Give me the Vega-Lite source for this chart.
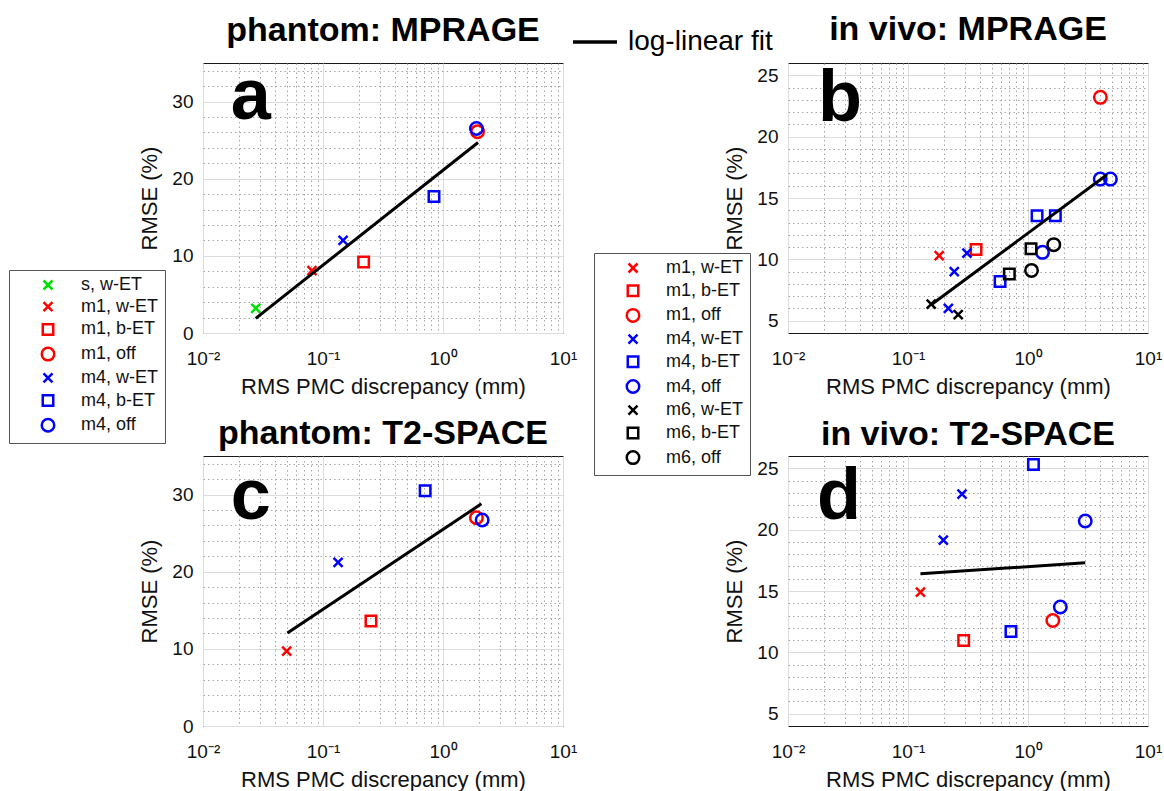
{
  "$schema": "https://vega.github.io/schema/vega-lite/v6.json",
  "padding": {"left": 8, "top": 12, "right": 0, "bottom": 0},
  "background": "white",
  "bounds": "flush",
  "columns": 2,
  "spacing": {"row": 123, "column": 225},
  "resolve": {
    "scale": {"x": "independent", "y": "independent", "color": "independent", "shape": "independent", "stroke": "independent"},
    "legend": {"color": "independent", "shape": "independent", "stroke": "independent"},
    "axis": {"x": "independent", "y": "independent"}
  },
  "config": {
    "font": "Liberation Sans",
    "view": {"stroke": "#1a1a1a", "strokeWidth": 1},
    "axis": {
      "labelFont": "Liberation Sans", "labelFontSize": 19, "labelColor": "#111",
      "titleFont": "Liberation Sans", "titleFontSize": 22, "titleFontWeight": "normal", "titleColor": "#111",
      "ticks": false, "domain": false, "labelOverlap": false, "labelFlush": false,
      "gridWidth": 1, "labelPadding": 10, "titlePadding": 10, "tickCount": 60
    },
    "axisX": {"labelPadding": 16, "titlePadding": 8},
    "title": {"font": "Liberation Sans", "fontSize": 34, "fontWeight": "bold", "color": "#000", "anchor": "middle", "frame": "group", "baseline": "alphabetic"},
    "legend": {
      "labelFont": "Liberation Sans", "labelFontSize": 18, "labelColor": "#111",
      "strokeColor": "#555", "fillColor": "white", "padding": 6, "rowPadding": 1.7,
      "symbolSize": 156, "symbolStrokeWidth": 2.5, "symbolOffset": 24, "labelOffset": 24, "title": null
    }
  },
  "concat": [
    {
      "width": 360, "height": 270,
      "title": {"text": "phantom: MPRAGE", "offset": -30},
      "layer": [
        {
          "data": {"values": [
            {"x": 0.0275, "y": 3.2, "g": "s, w-ET"},
            {"x": 0.081, "y": 8.1, "g": "m1, w-ET"},
            {"x": 0.218, "y": 9.2, "g": "m1, b-ET"},
            {"x": 1.94, "y": 26.1, "g": "m1, off"},
            {"x": 0.147, "y": 12.0, "g": "m4, w-ET"},
            {"x": 0.841, "y": 17.7, "g": "m4, b-ET"},
            {"x": 1.90, "y": 26.5, "g": "m4, off"}
          ]},
          "mark": {"type": "point", "filled": false, "strokeWidth": 2.5, "size": 156, "opacity": 1},
          "encoding": {
            "x": {"field": "x", "type": "quantitative", "title": "RMS PMC discrepancy (mm)",
              "scale": {"type": "log", "domain": [0.01, 10], "nice": false},
              "axis": {
                "values": [0.01,0.02,0.03,0.04,0.05,0.06,0.07,0.08,0.09,0.1,0.2,0.3,0.4,0.5,0.6,0.7,0.8,0.9,1,2,3,4,5,6,7,8,9,10],
                "labelExpr": "abs(log(datum.value)/LN10 - round(log(datum.value)/LN10)) > 0.01 ? '' : ['10⁻²','10⁻¹','10⁰','10¹'][round(log(datum.value)/LN10)+2]",
                "gridDash": {"condition": {"test": "abs(log(datum.value)/LN10 - round(log(datum.value)/LN10)) > 0.01", "value": [1.5, 3]}, "value": []},
                "gridColor": {"condition": {"test": "abs(log(datum.value)/LN10 - round(log(datum.value)/LN10)) > 0.01", "value": "#a6a6a6"}, "value": "#dcdcdc"}
              }},
            "y": {"field": "y", "type": "quantitative", "title": "RMSE (%)",
              "scale": {"domain": [0, 35], "nice": false, "zero": false},
              "axis": {
                "values": [0,2,4,6,8,10,12,14,16,18,20,22,24,26,28,30,32,34],
                "labelExpr": "datum.value % 10 == 0 ? format(datum.value, 'd') : ''",
                "gridDash": {"condition": {"test": "datum.value % 10 != 0", "value": [1.5, 3]}, "value": []},
                "gridColor": {"condition": {"test": "datum.value % 10 != 0", "value": "#a6a6a6"}, "value": "#dcdcdc"}
              }},
            "color": {"field": "g", "type": "nominal",
              "scale": {"domain": ["s, w-ET","m1, w-ET","m1, b-ET","m1, off","m4, w-ET","m4, b-ET","m4, off"],
                        "range": ["#00e000","#ff0000","#ff0000","#ff0000","#0000ff","#0000ff","#0000ff"]},
              "legend": {"orient": "none", "legendX": -194, "legendY": 207, "symbolFillColor": "transparent"}},
            "shape": {"field": "g", "type": "nominal",
              "scale": {"domain": ["s, w-ET","m1, w-ET","m1, b-ET","m1, off","m4, w-ET","m4, b-ET","m4, off"],
                        "range": ["M-0.72,-0.72L0.72,0.72M-0.72,0.72L0.72,-0.72","M-0.72,-0.72L0.72,0.72M-0.72,0.72L0.72,-0.72","M-0.84,-0.84H0.84V0.84H-0.84Z","circle","M-0.72,-0.72L0.72,0.72M-0.72,0.72L0.72,-0.72","M-0.84,-0.84H0.84V0.84H-0.84Z","circle"]}}
          }
        },
        {
          "data": {"values": [{"x": 0.0275, "y": 1.9, "fit": "log-linear fit"}, {"x": 1.96, "y": 24.7, "fit": "log-linear fit"}]},
          "mark": {"type": "line", "strokeWidth": 3},
          "encoding": {
            "x": {"field": "x", "type": "quantitative"},
            "y": {"field": "y", "type": "quantitative"},
            "stroke": {"field": "fit", "type": "nominal", "scale": {"domain": ["log-linear fit"], "range": ["#000000"]},
              "legend": {"orient": "none", "legendX": 368, "legendY": -45, "padding": 0, "symbolOffset": 0, "strokeColor": "transparent", "fillColor": "transparent",
                "symbolType": "stroke", "symbolSize": 1936, "symbolStrokeWidth": 3.5, "labelFontSize": 28, "labelOffset": 9, "labelColor": "#000"}}
          }
        },
        {
          "data": {"values": [{"x": 0.01706, "y": 27.8, "t": "a"}]},
          "mark": {"type": "text", "fontSize": 72, "fontWeight": "bold", "align": "left", "baseline": "alphabetic", "font": "Liberation Sans", "color": "#000"},
          "encoding": {"x": {"field": "x", "type": "quantitative"}, "y": {"field": "y", "type": "quantitative"}, "text": {"field": "t"}}
        }
      ]
    },
    {
      "width": 360, "height": 270,
      "title": {"text": "in vivo: MPRAGE", "offset": 16},
      "layer": [
        {
          "data": {"values": [
            {"x": 0.182, "y": 10.3, "g": "m1, w-ET"},
            {"x": 0.369, "y": 10.8, "g": "m1, b-ET"},
            {"x": 4.01, "y": 23.2, "g": "m1, off"},
            {"x": 0.243, "y": 9.0, "g": "m4, w-ET"},
            {"x": 0.310, "y": 10.5, "g": "m4, w-ET"},
            {"x": 0.217, "y": 6.0, "g": "m4, w-ET"},
            {"x": 1.19, "y": 13.55, "g": "m4, b-ET"},
            {"x": 1.69, "y": 13.55, "g": "m4, b-ET"},
            {"x": 0.585, "y": 8.2, "g": "m4, b-ET"},
            {"x": 1.32, "y": 10.57, "g": "m4, off"},
            {"x": 4.0, "y": 16.54, "g": "m4, off"},
            {"x": 4.86, "y": 16.54, "g": "m4, off"},
            {"x": 0.156, "y": 6.35, "g": "m6, w-ET"},
            {"x": 0.262, "y": 5.5, "g": "m6, w-ET"},
            {"x": 1.06, "y": 10.87, "g": "m6, b-ET"},
            {"x": 0.699, "y": 8.8, "g": "m6, b-ET"},
            {"x": 1.07, "y": 9.1, "g": "m6, off"},
            {"x": 1.64, "y": 11.2, "g": "m6, off"}
          ]},
          "mark": {"type": "point", "filled": false, "strokeWidth": 2.5, "size": 156, "opacity": 1},
          "encoding": {
            "x": {"field": "x", "type": "quantitative", "title": "RMS PMC discrepancy (mm)",
              "scale": {"type": "log", "domain": [0.01, 10], "nice": false},
              "axis": {
                "values": [0.01,0.02,0.03,0.04,0.05,0.06,0.07,0.08,0.09,0.1,0.2,0.3,0.4,0.5,0.6,0.7,0.8,0.9,1,2,3,4,5,6,7,8,9,10],
                "labelExpr": "abs(log(datum.value)/LN10 - round(log(datum.value)/LN10)) > 0.01 ? '' : ['10⁻²','10⁻¹','10⁰','10¹'][round(log(datum.value)/LN10)+2]",
                "gridDash": {"condition": {"test": "abs(log(datum.value)/LN10 - round(log(datum.value)/LN10)) > 0.01", "value": [1.5, 3]}, "value": []},
                "gridColor": {"condition": {"test": "abs(log(datum.value)/LN10 - round(log(datum.value)/LN10)) > 0.01", "value": "#a6a6a6"}, "value": "#dcdcdc"}
              }},
            "y": {"field": "y", "type": "quantitative", "title": "RMSE (%)",
              "scale": {"domain": [4, 26], "nice": false, "zero": false},
              "axis": {
                "values": [5,6,7,8,9,10,11,12,13,14,15,16,17,18,19,20,21,22,23,24,25],
                "labelExpr": "datum.value % 5 == 0 ? format(datum.value, 'd') : ''",
                "gridDash": {"condition": {"test": "datum.value % 5 != 0", "value": [1.5, 3]}, "value": []},
                "gridColor": {"condition": {"test": "datum.value % 5 != 0", "value": "#a6a6a6"}, "value": "#dcdcdc"}
              }},
            "color": {"field": "g", "type": "nominal",
              "scale": {"domain": ["m1, w-ET","m1, b-ET","m1, off","m4, w-ET","m4, b-ET","m4, off","m6, w-ET","m6, b-ET","m6, off"],
                        "range": ["#ff0000","#ff0000","#ff0000","#0000ff","#0000ff","#0000ff","#000000","#000000","#000000"]},
              "legend": {"orient": "none", "legendX": -194, "legendY": 190, "symbolFillColor": "transparent"}},
            "shape": {"field": "g", "type": "nominal",
              "scale": {"domain": ["m1, w-ET","m1, b-ET","m1, off","m4, w-ET","m4, b-ET","m4, off","m6, w-ET","m6, b-ET","m6, off"],
                        "range": ["M-0.72,-0.72L0.72,0.72M-0.72,0.72L0.72,-0.72","M-0.84,-0.84H0.84V0.84H-0.84Z","circle","M-0.72,-0.72L0.72,0.72M-0.72,0.72L0.72,-0.72","M-0.84,-0.84H0.84V0.84H-0.84Z","circle","M-0.72,-0.72L0.72,0.72M-0.72,0.72L0.72,-0.72","M-0.84,-0.84H0.84V0.84H-0.84Z","circle"]}}
          }
        },
        {
          "data": {"values": [{"x": 0.156, "y": 6.3}, {"x": 4.55, "y": 16.9}]},
          "mark": {"type": "line", "strokeWidth": 3, "color": "#000"},
          "encoding": {"x": {"field": "x", "type": "quantitative"}, "y": {"field": "y", "type": "quantitative"}}
        },
        {
          "data": {"values": [{"x": 0.0178, "y": 21.3, "t": "b"}]},
          "mark": {"type": "text", "fontSize": 72, "fontWeight": "bold", "align": "left", "baseline": "alphabetic", "font": "Liberation Sans", "color": "#000"},
          "encoding": {"x": {"field": "x", "type": "quantitative"}, "y": {"field": "y", "type": "quantitative"}, "text": {"field": "t"}}
        }
      ]
    },
    {
      "width": 360, "height": 270,
      "title": {"text": "phantom: T2-SPACE", "offset": 4},
      "layer": [
        {
          "data": {"values": [
            {"x": 0.0498, "y": 9.7, "g": "m1, w-ET"},
            {"x": 0.251, "y": 13.6, "g": "m1, b-ET"},
            {"x": 1.90, "y": 27.0, "g": "m1, off"},
            {"x": 0.1336, "y": 21.2, "g": "m4, w-ET"},
            {"x": 0.71, "y": 30.5, "g": "m4, b-ET"},
            {"x": 2.12, "y": 26.7, "g": "m4, off"}
          ]},
          "mark": {"type": "point", "filled": false, "strokeWidth": 2.5, "size": 156, "opacity": 1},
          "encoding": {
            "x": {"field": "x", "type": "quantitative", "title": "RMS PMC discrepancy (mm)",
              "scale": {"type": "log", "domain": [0.01, 10], "nice": false},
              "axis": {
                "values": [0.01,0.02,0.03,0.04,0.05,0.06,0.07,0.08,0.09,0.1,0.2,0.3,0.4,0.5,0.6,0.7,0.8,0.9,1,2,3,4,5,6,7,8,9,10],
                "labelExpr": "abs(log(datum.value)/LN10 - round(log(datum.value)/LN10)) > 0.01 ? '' : ['10⁻²','10⁻¹','10⁰','10¹'][round(log(datum.value)/LN10)+2]",
                "gridDash": {"condition": {"test": "abs(log(datum.value)/LN10 - round(log(datum.value)/LN10)) > 0.01", "value": [1.5, 3]}, "value": []},
                "gridColor": {"condition": {"test": "abs(log(datum.value)/LN10 - round(log(datum.value)/LN10)) > 0.01", "value": "#a6a6a6"}, "value": "#dcdcdc"}
              }},
            "y": {"field": "y", "type": "quantitative", "title": "RMSE (%)",
              "scale": {"domain": [0, 35], "nice": false, "zero": false},
              "axis": {
                "values": [0,2,4,6,8,10,12,14,16,18,20,22,24,26,28,30,32,34],
                "labelExpr": "datum.value % 10 == 0 ? format(datum.value, 'd') : ''",
                "gridDash": {"condition": {"test": "datum.value % 10 != 0", "value": [1.5, 3]}, "value": []},
                "gridColor": {"condition": {"test": "datum.value % 10 != 0", "value": "#a6a6a6"}, "value": "#dcdcdc"}
              }},
            "color": {"field": "g", "type": "nominal",
              "scale": {"domain": ["m1, w-ET","m1, b-ET","m1, off","m4, w-ET","m4, b-ET","m4, off"],
                        "range": ["#ff0000","#ff0000","#ff0000","#0000ff","#0000ff","#0000ff"]},
              "legend": null},
            "shape": {"field": "g", "type": "nominal",
              "scale": {"domain": ["m1, w-ET","m1, b-ET","m1, off","m4, w-ET","m4, b-ET","m4, off"],
                        "range": ["M-0.72,-0.72L0.72,0.72M-0.72,0.72L0.72,-0.72","M-0.84,-0.84H0.84V0.84H-0.84Z","circle","M-0.72,-0.72L0.72,0.72M-0.72,0.72L0.72,-0.72","M-0.84,-0.84H0.84V0.84H-0.84Z","circle"]},
              "legend": null}
          }
        },
        {
          "data": {"values": [{"x": 0.0505, "y": 12.06}, {"x": 2.09, "y": 28.8}]},
          "mark": {"type": "line", "strokeWidth": 3, "color": "#000"},
          "encoding": {"x": {"field": "x", "type": "quantitative"}, "y": {"field": "y", "type": "quantitative"}}
        },
        {
          "data": {"values": [{"x": 0.01706, "y": 26.8, "t": "c"}]},
          "mark": {"type": "text", "fontSize": 72, "fontWeight": "bold", "align": "left", "baseline": "alphabetic", "font": "Liberation Sans", "color": "#000"},
          "encoding": {"x": {"field": "x", "type": "quantitative"}, "y": {"field": "y", "type": "quantitative"}, "text": {"field": "t"}}
        }
      ]
    },
    {
      "width": 360, "height": 270,
      "title": {"text": "in vivo: T2-SPACE", "offset": 2},
      "layer": [
        {
          "data": {"values": [
            {"x": 0.127, "y": 14.9, "g": "m1, w-ET"},
            {"x": 0.291, "y": 10.96, "g": "m1, b-ET"},
            {"x": 1.61, "y": 12.6, "g": "m1, off"},
            {"x": 0.197, "y": 19.15, "g": "m4, w-ET"},
            {"x": 0.282, "y": 22.9, "g": "m4, w-ET"},
            {"x": 1.11, "y": 25.3, "g": "m4, b-ET"},
            {"x": 0.721, "y": 11.7, "g": "m4, b-ET"},
            {"x": 3.0, "y": 20.7, "g": "m4, off"},
            {"x": 1.86, "y": 13.7, "g": "m4, off"}
          ]},
          "mark": {"type": "point", "filled": false, "strokeWidth": 2.5, "size": 156, "opacity": 1},
          "encoding": {
            "x": {"field": "x", "type": "quantitative", "title": "RMS PMC discrepancy (mm)",
              "scale": {"type": "log", "domain": [0.01, 10], "nice": false},
              "axis": {
                "values": [0.01,0.02,0.03,0.04,0.05,0.06,0.07,0.08,0.09,0.1,0.2,0.3,0.4,0.5,0.6,0.7,0.8,0.9,1,2,3,4,5,6,7,8,9,10],
                "labelExpr": "abs(log(datum.value)/LN10 - round(log(datum.value)/LN10)) > 0.01 ? '' : ['10⁻²','10⁻¹','10⁰','10¹'][round(log(datum.value)/LN10)+2]",
                "gridDash": {"condition": {"test": "abs(log(datum.value)/LN10 - round(log(datum.value)/LN10)) > 0.01", "value": [1.5, 3]}, "value": []},
                "gridColor": {"condition": {"test": "abs(log(datum.value)/LN10 - round(log(datum.value)/LN10)) > 0.01", "value": "#a6a6a6"}, "value": "#dcdcdc"}
              }},
            "y": {"field": "y", "type": "quantitative", "title": "RMSE (%)",
              "scale": {"domain": [4, 26], "nice": false, "zero": false},
              "axis": {
                "values": [5,6,7,8,9,10,11,12,13,14,15,16,17,18,19,20,21,22,23,24,25],
                "labelExpr": "datum.value % 5 == 0 ? format(datum.value, 'd') : ''",
                "gridDash": {"condition": {"test": "datum.value % 5 != 0", "value": [1.5, 3]}, "value": []},
                "gridColor": {"condition": {"test": "datum.value % 5 != 0", "value": "#a6a6a6"}, "value": "#dcdcdc"}
              }},
            "color": {"field": "g", "type": "nominal",
              "scale": {"domain": ["m1, w-ET","m1, b-ET","m1, off","m4, w-ET","m4, b-ET","m4, off"],
                        "range": ["#ff0000","#ff0000","#ff0000","#0000ff","#0000ff","#0000ff"]},
              "legend": null},
            "shape": {"field": "g", "type": "nominal",
              "scale": {"domain": ["m1, w-ET","m1, b-ET","m1, off","m4, w-ET","m4, b-ET","m4, off"],
                        "range": ["M-0.72,-0.72L0.72,0.72M-0.72,0.72L0.72,-0.72","M-0.84,-0.84H0.84V0.84H-0.84Z","circle","M-0.72,-0.72L0.72,0.72M-0.72,0.72L0.72,-0.72","M-0.84,-0.84H0.84V0.84H-0.84Z","circle"]},
              "legend": null}
          }
        },
        {
          "data": {"values": [{"x": 0.127, "y": 16.4}, {"x": 3.0, "y": 17.3}]},
          "mark": {"type": "line", "strokeWidth": 3, "color": "#000"},
          "encoding": {"x": {"field": "x", "type": "quantitative"}, "y": {"field": "y", "type": "quantitative"}}
        },
        {
          "data": {"values": [{"x": 0.01744, "y": 20.9, "t": "d"}]},
          "mark": {"type": "text", "fontSize": 72, "fontWeight": "bold", "align": "left", "baseline": "alphabetic", "font": "Liberation Sans", "color": "#000"},
          "encoding": {"x": {"field": "x", "type": "quantitative"}, "y": {"field": "y", "type": "quantitative"}, "text": {"field": "t"}}
        }
      ]
    }
  ]
}
